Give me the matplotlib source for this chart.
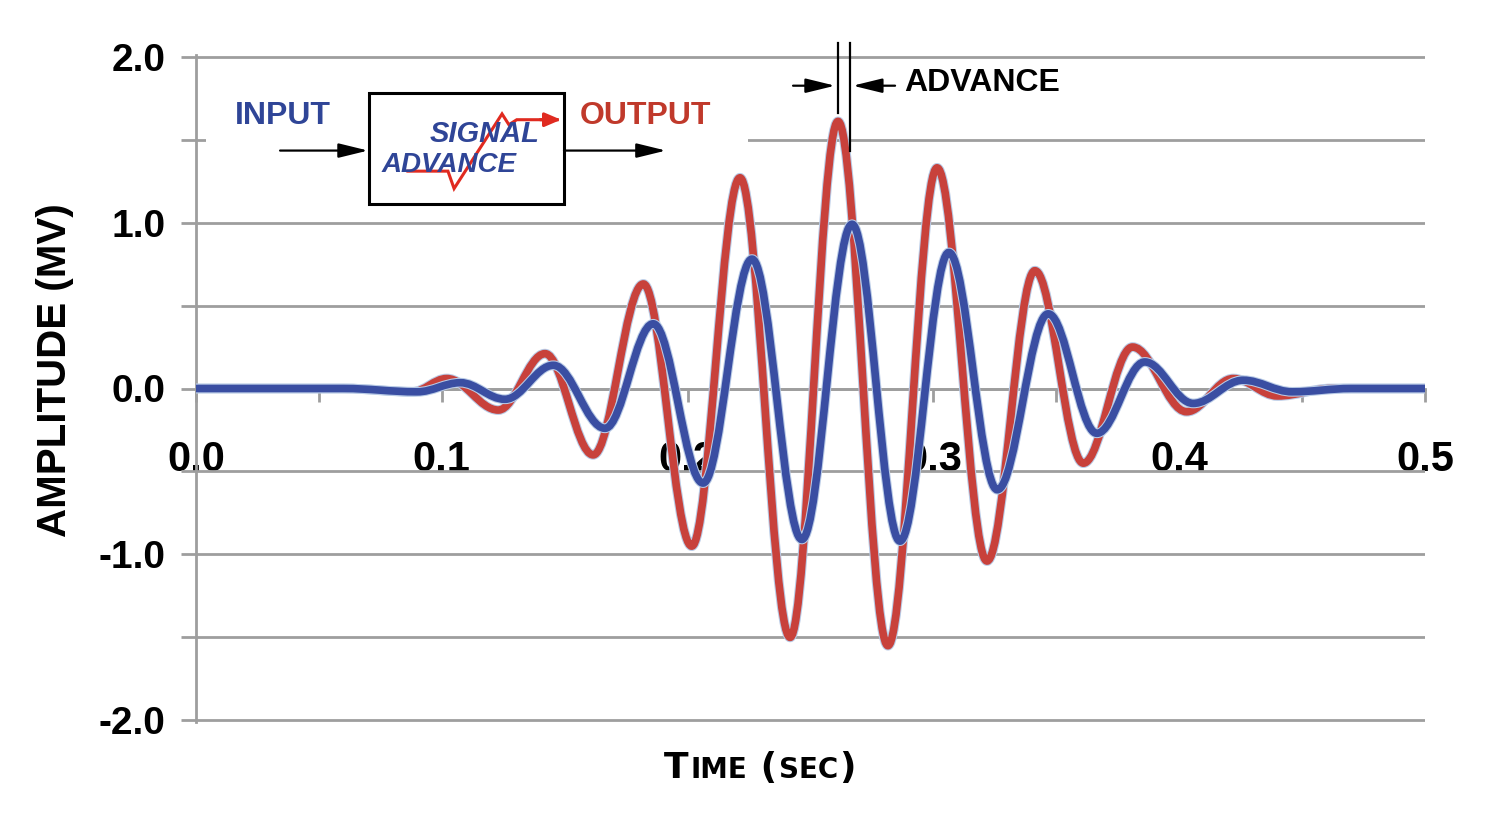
import numpy as np
import matplotlib
matplotlib.use("Agg")
import matplotlib.pyplot as plt
from matplotlib.path import Path
from matplotlib.patches import PathPatch, Rectangle
import matplotlib.patheffects as pe
from matplotlib.offsetbox import TextArea, HPacker, AnnotationBbox

# extrema of the two wave packets (time in s, amplitude in mV)
t_output = [0.0, 0.060, 0.088, 0.102, 0.123, 0.142, 0.1616, 0.182, 0.2017, 0.2213, 0.2417,
            0.2612, 0.2815, 0.3015, 0.3218, 0.3413, 0.361, 0.381, 0.403, 0.422, 0.440, 0.462, 0.5]
y_output = [0.0, 0.0, -0.02, 0.06, -0.13, 0.21, -0.40, 0.63, -0.95, 1.27, -1.50,
            1.61, -1.55, 1.33, -1.04, 0.71, -0.45, 0.25, -0.14, 0.06, -0.045, 0.0, 0.0]

t_input = [0.0, 0.060, 0.090, 0.1075, 0.1257, 0.1454, 0.1664, 0.186, 0.2063, 0.2262, 0.2465,
           0.2669, 0.2864, 0.3063, 0.326, 0.3467, 0.3665, 0.386, 0.4057, 0.426, 0.446, 0.47, 0.5]
y_input = [0.0, 0.0, -0.02, 0.035, -0.065, 0.14, -0.24, 0.39, -0.57, 0.78, -0.91,
           0.99, -0.92, 0.82, -0.61, 0.45, -0.27, 0.16, -0.09, 0.05, -0.02, 0.0, 0.0]

x_labels = ["0.0", "0.1", "0.2", "0.3", "0.4", "0.5"]
y_labels = ["-2.0", "-1.0", "0.0", "1.0", "2.0"]

RED = "#c8413b"
BLUE = "#3a4ea2"
GRID = "#9e9e9e"
SANS = ["Liberation Sans", "DejaVu Sans"]


def smooth_path(ts, ys, h=0.364):
    # cubic bezier between neighbouring extrema, flat tangents at each extremum
    verts = [(ts[0], ys[0])]
    codes = [Path.MOVETO]
    for i in range(len(ts) - 1):
        d = ts[i + 1] - ts[i]
        verts += [(ts[i] + h * d, ys[i]), (ts[i + 1] - h * d, ys[i + 1]), (ts[i + 1], ys[i + 1])]
        codes += [Path.CURVE4] * 3
    return Path(verts, codes)


fig = plt.figure(figsize=(15, 8.25), dpi=100)
ax = fig.add_axes([196 / 1500, 1 - 722 / 825, (1425 - 196) / 1500, (722 - 55) / 825])
ax.set_xlim(0, 0.5)
ax.set_ylim(-2.01, 2.01)
ax.set_axisbelow(True)

# axes styling
for s in ["top", "right"]:
    ax.spines[s].set_visible(False)
ax.spines["bottom"].set_position(("data", 0))
ax.spines["bottom"].set_color(GRID)
ax.spines["bottom"].set_linewidth(2)
ax.spines["left"].set_color(GRID)
ax.spines["left"].set_linewidth(2)

ax.set_xticks(np.arange(0, 0.51, 0.1))
ax.set_xticks(np.arange(0.05, 0.5, 0.1), minor=True)
ax.set_xticklabels(x_labels)
ax.set_yticks(np.arange(-2, 2.1, 1.0))
ax.set_yticks(np.arange(-1.5, 2.0, 1.0), minor=True)
ax.set_yticklabels(y_labels)

ax.tick_params(axis="x", which="both", direction="out", length=9, width=2, color=GRID, pad=28)
ax.tick_params(axis="x", labelsize=30)
ax.tick_params(axis="y", which="both", direction="out", length=11, width=2, color=GRID, pad=11)
ax.tick_params(axis="y", labelsize=28)
for lab in ax.get_xticklabels() + ax.get_yticklabels():
    lab.set_family(SANS)
    lab.set_fontweight("bold")

ax.grid(True, axis="y", which="both", color=GRID, linewidth=2)

# the block diagram sits over the 1.5 grid line
ax.add_patch(Rectangle((0.004, 1.4), 0.2206, 0.2, facecolor="white", edgecolor="none", zorder=1))

# the two signals
for ts, ys, col in [(t_output, y_output, RED), (t_input, y_input, BLUE)]:
    patch = PathPatch(smooth_path(ts, ys), facecolor="none", edgecolor=col, linewidth=5.5,
                      capstyle="round", joinstyle="round", zorder=3)
    patch.set_path_effects([pe.Stroke(linewidth=7, foreground="#b9cbe6"), pe.Normal()])
    ax.add_patch(patch)

# advance marker between the two main peaks
t_red_peak = t_output[int(np.argmax(y_output))]
t_blue_peak = t_input[int(np.argmax(y_input))]
ax.plot([t_red_peak, t_red_peak], [2.08, 1.66], color="black", lw=1.6, clip_on=False, zorder=4)
ax.plot([t_blue_peak - 0.001, t_blue_peak - 0.001], [2.08, 1.43], color="black", lw=1.6,
        clip_on=False, zorder=4)
arrow = dict(arrowstyle="-|>,head_length=0.9,head_width=0.22", color="black", lw=1.6,
             shrinkA=0, shrinkB=0, mutation_scale=20)
ax.annotate("", xy=(t_red_peak - 0.0012, 1.825), xytext=(0.2429, 1.825), arrowprops=arrow, zorder=4)
ax.annotate("", xy=(t_blue_peak + 0.0003, 1.825), xytext=(0.2844, 1.825), arrowprops=arrow, zorder=4)
ax.text(0.3198, 1.84, "ADVANCE", fontsize=23, fontweight="bold", family=SANS,
        ha="center", va="center", zorder=4)

# block diagram: input -> signal advance -> output
ax.text(0.0354, 1.645, "INPUT", fontsize=23, fontweight="bold", family=SANS,
        color="#2f4597", ha="center", va="center", zorder=4)
ax.text(0.1827, 1.645, "OUTPUT", fontsize=23, fontweight="bold", family=SANS,
        color="#c0392b", ha="center", va="center", zorder=4)
ax.add_patch(Rectangle((0.0704, 1.114), 0.0793, 0.669, facecolor="white", edgecolor="black",
                       linewidth=2.2, zorder=4))
ax.annotate("", xy=(0.0700, 1.434), xytext=(0.0342, 1.434), arrowprops=arrow, zorder=4)
ax.annotate("", xy=(0.1912, 1.434), xytext=(0.1497, 1.434), arrowprops=arrow, zorder=4)

# logo inside the box
logo_x = [0.0862, 0.1025, 0.1050, 0.1245, 0.1273, 0.1305, 0.1470]
logo_y = [1.310, 1.310, 1.205, 1.655, 1.590, 1.620, 1.620]
ax.plot(logo_x, logo_y, color="#e02a20", lw=2.2, zorder=5, solid_joinstyle="miter")
ax.annotate("", xy=(0.1485, 1.620), xytext=(0.1400, 1.620), zorder=5,
            arrowprops=dict(arrowstyle="-|>,head_length=0.7,head_width=0.3", color="#e02a20",
                            lw=2.2, shrinkA=0, shrinkB=0, mutation_scale=14))
ax.text(0.1175, 1.535, "SIGNAL", fontsize=21, fontweight="bold", style="italic",
        family=SANS, color="#2f4597", ha="center", va="center", zorder=6)
ax.text(0.1030, 1.345, "ADVANCE", fontsize=20, fontweight="bold", style="italic",
        family=SANS, color="#2f4597", ha="center", va="center", zorder=6)

# axis titles
fig.text(55 / 1500, 1 - 370 / 825, "AMPLITUDE (MV)", rotation=90, fontsize=29, fontweight="bold",
         family=SANS, ha="center", va="center")

big = dict(fontsize=26, fontweight="bold", family="DejaVu Sans")
small = dict(fontsize=20, fontweight="bold", family="DejaVu Sans")
parts = [TextArea("T", textprops=big), TextArea("IME", textprops=small),
         TextArea(" (", textprops=big), TextArea("SEC", textprops=small), TextArea(")", textprops=big)]
xtitle = HPacker(children=parts, align="baseline", pad=0, sep=1)
fig.add_artist(AnnotationBbox(xtitle, (760 / 1500, 1 - 768 / 825), xycoords="figure fraction",
                              frameon=False, box_alignment=(0.5, 0.5)))

fig.savefig("out.png", dpi=100, facecolor="white")
